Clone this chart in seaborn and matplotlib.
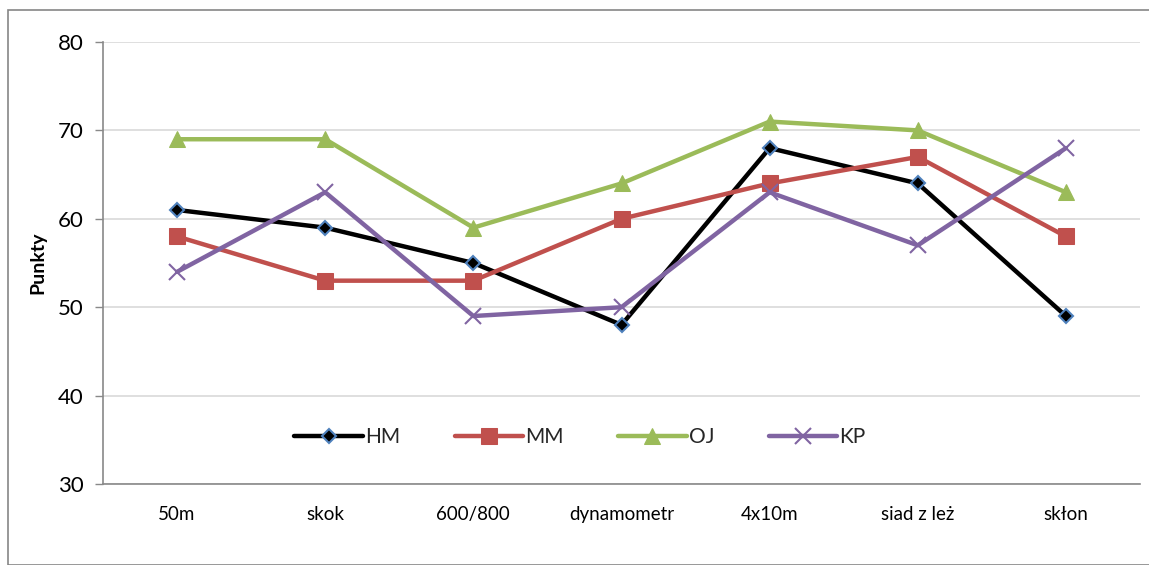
import matplotlib
matplotlib.use("Agg")
import matplotlib.pyplot as plt
import seaborn as sns
import pandas as pd
from matplotlib.patches import Rectangle

categories = ["50m", "skok", "600/800", "dynamometr", "4x10m", "siad z leż", "skłon"]
hm = [61, 59, 55, 48, 68, 64, 49]
mm = [58, 53, 53, 60, 64, 67, 58]
oj = [69, 69, 59, 64, 71, 70, 63]
kp = [54, 63, 49, 50, 63, 57, 68]

series = {"HM": hm, "MM": mm, "OJ": oj, "KP": kp}
styles = {
    "HM": dict(color="#000000", marker="D", markersize=7, markerfacecolor="#000000",
               markeredgecolor="#4F81BD", markeredgewidth=1.5),
    "MM": dict(color="#C0504D", marker="s", markersize=11, markerfacecolor="#C0504D",
               markeredgecolor="#C0504D"),
    "OJ": dict(color="#9BBB59", marker="^", markersize=12, markerfacecolor="#9BBB59",
               markeredgecolor="#9BBB59"),
    "KP": dict(color="#8064A2", marker="x", markersize=11, markeredgewidth=1.5,
               markeredgecolor="#8064A2"),
}

sns.set_theme(style="white")
plt.rcParams["font.family"] = ["Lato", "DejaVu Sans"]

fig = plt.figure(figsize=(11.49, 5.65), dpi=100)
ax = fig.add_axes([103 / 1149, 1 - 484 / 565, 1037 / 1149, 442 / 565])

for name, vals in series.items():
    df = pd.DataFrame({"x": list(range(len(categories))), "y": vals})
    sns.lineplot(data=df, x="x", y="y", ax=ax, label=name, linewidth=3.2,
                 sort=False, **styles[name])

ax.set_xlim(-0.5, len(categories) - 0.5)
ax.set_ylim(30, 80)
ax.set_yticks([30, 40, 50, 60, 70, 80])
ax.yaxis.grid(True, color="#D9D9D9", linewidth=1.2)
ax.set_axisbelow(True)
ax.set_xticks(range(len(categories)))
ax.set_xticklabels(categories, fontsize=13.5)
ax.set_xticks([i - 0.5 for i in range(len(categories) + 1)], minor=True)
ax.tick_params(axis="x", which="major", length=0, pad=16)
ax.tick_params(axis="x", which="minor", length=6, width=1, color="#898989", direction="out")
ax.tick_params(axis="y", length=6, width=1, color="#898989", direction="out", left=True,
               labelsize=16, pad=8, labelcolor="#000000")
ax.tick_params(axis="x", labelcolor="#000000")
for s in ["top", "right"]:
    ax.spines[s].set_visible(False)
for s in ["left", "bottom"]:
    ax.spines[s].set_color("#898989")
    ax.spines[s].set_linewidth(1.2)
ax.set_xlabel("")
ax.set_ylabel("Punkty", fontsize=14, fontweight="bold", labelpad=8, color="#000000")

leg = ax.legend(loc="center", bbox_to_anchor=(0.46, 0.106), ncol=4, frameon=False,
                fontsize=15, handlelength=3.3, columnspacing=2.6, handletextpad=0.1)

fig.patches.append(Rectangle((8 / 1149, 0), 1.0, 1 - 10 / 565, transform=fig.transFigure,
                             fill=False, edgecolor="#868686", linewidth=1.2, zorder=0))

fig.savefig("out.png", dpi=100)
